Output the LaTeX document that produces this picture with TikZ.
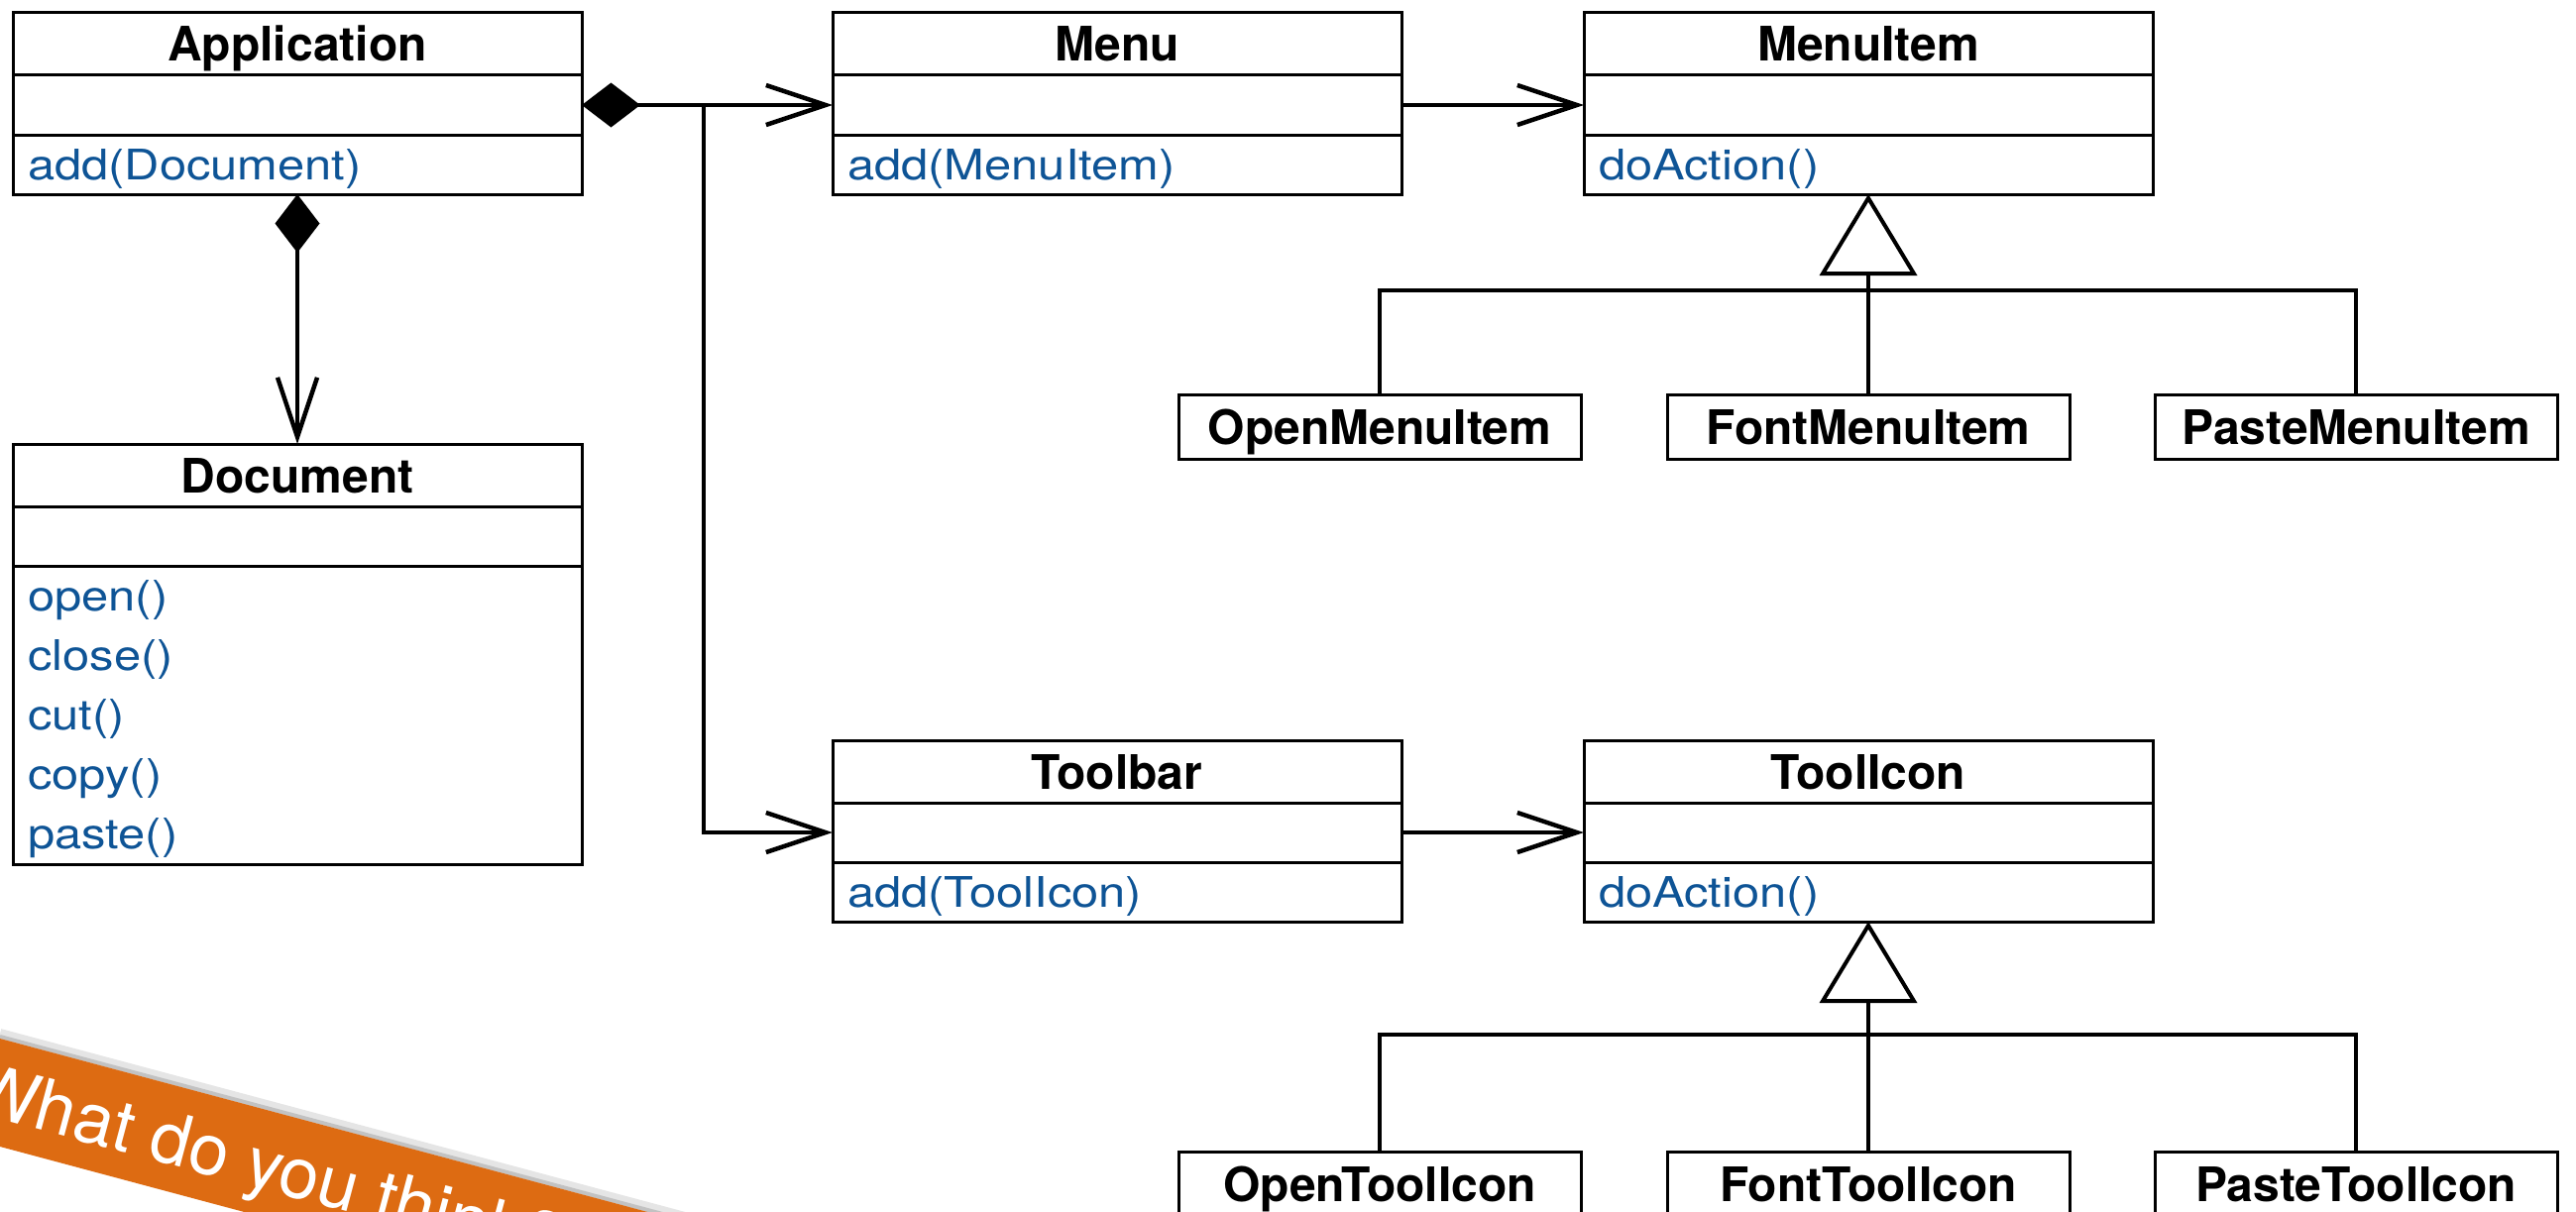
\documentclass[tikz,border=0pt]{standalone}
\usepackage{fontspec}
\setmainfont{TeX Gyre Heros}
\newfontfamily\methfont[FakeStretch=1.15]{TeX Gyre Heros}
\usetikzlibrary{arrows.meta,calc}
\definecolor{methblue}{RGB}{14,84,150}
\definecolor{ribbon}{RGB}{221,107,18}
\begin{document}
\begin{tikzpicture}[x=1pt,y=-1pt,
  box/.style={draw=black, line width=3pt, inner sep=0pt, outer sep=0pt, minimum width=574pt},
  ttl/.style={box, font=\fontsize{48}{58}\selectfont\bfseries, text height=35pt, text depth=0pt, minimum height=63pt},
  attr/.style={box, minimum height=60pt},
  ops/.style={box, minimum height=60pt, inner xsep=15pt, text width=544pt, align=left,
    font=\methfont\fontsize{42.5}{60}\selectfont, text=methblue, text height=31pt, text depth=0pt},
  opsbig/.style={box, minimum height=301pt},
  optxt/.style={inner sep=0pt, anchor=base west, font=\methfont\fontsize{42.5}{60}\selectfont, text=methblue},
  sub/.style={box, minimum width=406pt, minimum height=65pt, font=\fontsize{48}{58}\selectfont\bfseries, text height=35pt, text depth=0pt},
  conn/.style={draw=black, line width=4.5pt},
  navarrow/.style={conn, -{Straight Barb[length=60pt 0, width=40pt 0]}},
  comp/.style={conn, {Diamond[length=59pt 0, width=45pt 0]}-{Straight Barb[length=60pt 0, width=40pt 0]}},
  gen/.style={conn, line width=4pt, -{Triangle[open, fill=white, length=82pt 0, width=98pt 0]}},
  bar/.style={conn, line width=4pt},
  banner/.style={inner sep=0pt, text=white, font=\fontsize{72}{80}\selectfont}
]
\useasboundingbox (0,0) rectangle (2599,1223);
\clip (0,0) rectangle (2599,1223);
\fill[white] (0,0) rectangle (2599,1223);

% Application
\node[ttl, anchor=north west] (app) at (13,13) {Application};
\node[attr, anchor=north] (app-a) at (app.south) {};
\node[ops, anchor=north] (app-m) at (app-a.south) {add(Document)};

% Document
\node[ttl, anchor=north west] (doc) at (13,448) {Document};
\node[attr, anchor=north] (doc-a) at (doc.south) {};
\node[opsbig, anchor=north] (doc-m) at (doc-a.south) {};
\node[optxt] (d1) at ($(doc-m.north west)+(15,45)$) {open()};
\node[optxt] (d2) at ($(doc-m.north west)+(15,105)$) {close()};
\node[optxt] (d3) at ($(doc-m.north west)+(15,165)$) {cut()};
\node[optxt] (d4) at ($(doc-m.north west)+(15,225)$) {copy()};
\node[optxt] (d5) at ($(doc-m.north west)+(15,285)$) {paste()};

% Menu
\node[ttl, anchor=north west] (menu) at (840,13) {Menu};
\node[attr, anchor=north] (menu-a) at (menu.south) {};
\node[ops, anchor=north] (menu-m) at (menu-a.south) {add(MenuItem)};

% MenuItem
\node[ttl, anchor=north west] (mi) at (1598,13) {MenuItem};
\node[attr, anchor=north] (mi-a) at (mi.south) {};
\node[ops, anchor=north] (mi-m) at (mi-a.south) {doAction()};

% Toolbar
\node[ttl, anchor=north west] (tb) at (840,747) {Toolbar};
\node[attr, anchor=north] (tb-a) at (tb.south) {};
\node[ops, anchor=north] (tb-m) at (tb-a.south) {add(ToolIcon)};

% ToolIcon
\node[ttl, anchor=north west] (ti) at (1598,747) {ToolIcon};
\node[attr, anchor=north] (ti-a) at (ti.south) {};
\node[ops, anchor=north] (ti-m) at (ti-a.south) {doAction()};

% subclasses
\node[sub] (omi) at (1392,430.5) {OpenMenuItem};
\node[sub] (fmi) at (1885,430.5) {FontMenuItem};
\node[sub] (pmi) at (2377,430.5) {PasteMenuItem};
\node[sub] (oti) at (1392,1194.5) {OpenToolIcon};
\node[sub] (fti) at (1885,1194.5) {FontToolIcon};
\node[sub] (pti) at (2377,1194.5) {PasteToolIcon};

% connectors
\draw[comp] (app-a.east) -- (menu-a.west);
\coordinate (j) at (710,106);
\draw[navarrow] (j) |- (tb-a.west);
\draw[comp] (app-m.south) -- (doc.north);
\draw[navarrow] (menu-a.east) -- (mi-a.west);
\draw[navarrow] (tb-a.east) -- (ti-a.west);

\coordinate (mbar) at (1885,293);
\draw[gen] (fmi.north) -- (mi-m.south);
\draw[bar] (omi.north) |- (mbar) -| (pmi.north);
\coordinate (tbar) at (1885,1044);
\draw[gen] (fti.north) -- (ti-m.south);
\draw[bar] (oti.north) |- (tbar) -| (pti.north);

% ribbon
\draw[black, opacity=0.10, line width=10pt] (0,1043) -- (900,1284);
\draw[black, opacity=0.15, line width=4pt] (0,1046) -- (900,1287);
\fill[ribbon] (0,1048) -- (900,1289) -- (900,1398) -- (0,1157) -- cycle;
\node[banner, anchor=base west, rotate=-15] (ask) at (-34,1120) {What do you think?};
\end{tikzpicture}
\end{document}
